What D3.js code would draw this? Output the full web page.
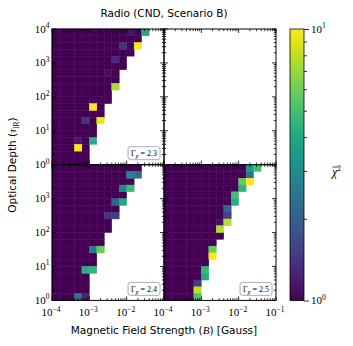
<!DOCTYPE html>
<html>
<head>
<meta charset="utf-8">
<script src="https://cdn.jsdelivr.net/npm/d3@7"></script>
<style>
  html, body { margin: 0; padding: 0; background: #fff; }
  svg { display: block; }
</style>
</head>
<body>
<svg id="chart" width="353" height="346"></svg>
<script>
// ---------------- DATA ----------------
// Magnetic field bins: log10(B) from -4 to -1, step 0.2 (15 bins)
const logBEdges = [-4.0,-3.8,-3.6,-3.4,-3.2,-3.0,-2.8,-2.6,-2.4,-2.2,-2.0,-1.8,-1.6,-1.4,-1.2,-1.0];
// Optical depth bins: log10(tau) from 4 (top row) down to 0, step 0.2 (20 rows)
const logTauEdges = [4.0,3.8,3.6,3.4,3.2,3.0,2.8,2.6,2.4,2.2,2.0,1.8,1.6,1.4,1.2,1.0,0.8,0.6,0.4,0.2,0.0];

const panelTitles = ["2.3", "none", "2.4", "2.5"];
const baseChi2 = 1.0;

// last filled B-bin index for each tau row (row 0 = top)
const extent23 = [12,11,11,10,9,9,8,8,8,7,7,6,6,6,5,5,5,4,4,4];
const extent24 = [11,11,10,10,9,9,8,8,7,7,6,6,6,5,5,5,4,4,4,4];
const extent25 = [12,11,11,10,9,9,8,8,8,7,7,6,6,6,5,5,5,4,4,4];

// cells with chi^2 differing from the base value: [row, col, chi2]
const cells23 = [[0,12,4.0],[0,10,1.12],[2,11,10],[2,9,1.4],[4,8,1.3],[6,7,1.08],[8,8,7.4],
                 [11,5,9.8],[13,6,9.5],[13,4,1.4],[16,5,4.2],[16,3,1.15],[17,3,9.8]];
const cells24 = [[1,10,2.8],[1,11,2.3],[3,9,2.8],[3,10,4.8],[5,8,2.0],[5,9,3.9],[7,7,1.4],[7,8,1.5],
                 [12,5,2.5],[12,6,5.8],[15,4,4.3],[15,5,4.5],[19,3,2.4],[19,4,1.25]];
const cells25 = [[0,11,3.4],[0,12,5.0],[1,11,2.4],[2,10,5.8],[2,11,10],[3,10,4.6],[4,9,5.0],[5,9,4.2],
                 [6,8,2.1],[7,8,1.55],[8,7,1.12],[8,8,7.8],[9,7,7.6],[12,6,5.8],[13,6,9.8],
                 [15,5,4.6],[16,5,4.0],[17,4,1.5],[18,4,8.2],[19,4,5.2]];

const xTickExps = [-4,-3,-2,-1];
const yTickExps = [0,1,2,3,4];
const cbarTickExps = [0,1];

// ---------------- LAYOUT ----------------
const svg = d3.select("#chart");
const PW = 112, PH = 135.7;
const colX = [52, 164];
const rowY = [29, 29 + PH];
const serif = "'Liberation Serif', 'DejaVu Serif', serif";
const sans = "'DejaVu Sans', sans-serif";

const color = d3.scaleSequentialLog(d3.interpolateViridis).domain([1, 10]);

function buildGrid(extent, special) {
  const out = [];
  extent.forEach((maxc, r) => {
    for (let c = 0; c <= maxc; c++) out.push({r, c, v: baseChi2});
  });
  special.forEach(([r, c, v]) => {
    const cell = out.find(d => d.r === r && d.c === c);
    if (cell) cell.v = v; else out.push({r, c, v});
  });
  return out;
}

const panels = [
  {px: 0, py: 0, grid: buildGrid(extent23, cells23), label: panelTitles[0]},
  {px: 1, py: 0, grid: [], label: null},
  {px: 0, py: 1, grid: buildGrid(extent24, cells24), label: panelTitles[2]},
  {px: 1, py: 1, grid: buildGrid(extent25, cells25), label: panelTitles[3]}
];

function addPow(sel, exp, anchor, baseSize, supSize) {
  const t = sel.attr("text-anchor", anchor).style("font-family", serif).style("font-size", baseSize + "px");
  t.append("tspan").text("10");
  t.append("tspan").attr("dy", -4.5).style("font-size", supSize + "px")
    .text(exp < 0 ? "\u2212" + Math.abs(exp) : String(exp));
}

const minorVals = (lo, hi) => {
  const v = [];
  for (let e = lo; e < hi; e++) for (let k = 2; k <= 9; k++) v.push(k * Math.pow(10, e));
  return v;
};

panels.forEach(p => {
  const x0 = colX[p.px], y0 = rowY[p.py];
  const x = d3.scaleLog().domain([1e-4, 1e-1]).range([x0, x0 + PW]);
  const y = d3.scaleLog().domain([1, 1e4]).range([y0 + PH, y0]);
  const g = svg.append("g");

  // cells (base cells first, highlighted cells on top)
  const sorted = p.grid.slice().sort((a, b) => (a.v !== baseChi2) - (b.v !== baseChi2));
  g.selectAll("rect.cell").data(sorted).enter().append("rect")
    .attr("x", d => x(Math.pow(10, logBEdges[d.c])))
    .attr("width", d => x(Math.pow(10, logBEdges[d.c + 1])) - x(Math.pow(10, logBEdges[d.c])))
    .attr("y", d => y(Math.pow(10, logTauEdges[d.r])))
    .attr("height", d => y(Math.pow(10, logTauEdges[d.r + 1])) - y(Math.pow(10, logTauEdges[d.r])))
    .attr("fill", d => color(d.v))
    .attr("stroke", d => color(d.v))
    .attr("stroke-width", 0.45);

  // ticks (inward on all four sides)
  const xMaj = xTickExps.map(e => Math.pow(10, e));
  const yMaj = yTickExps.map(e => Math.pow(10, e));
  const xMin = minorVals(-4, -1), yMin = minorVals(0, 4);
  const tick = (arr, len, horiz) => {
    arr.forEach(v => {
      if (horiz) {
        const xx = x(v);
        g.append("line").attr("x1", xx).attr("x2", xx).attr("y1", y0 + PH).attr("y2", y0 + PH - len)
          .attr("stroke", "#000").attr("stroke-width", 0.8);
        g.append("line").attr("x1", xx).attr("x2", xx).attr("y1", y0).attr("y2", y0 + len)
          .attr("stroke", "#000").attr("stroke-width", 0.8);
      } else {
        const yy = y(v);
        g.append("line").attr("y1", yy).attr("y2", yy).attr("x1", x0).attr("x2", x0 + len)
          .attr("stroke", "#000").attr("stroke-width", 0.8);
        g.append("line").attr("y1", yy).attr("y2", yy).attr("x1", x0 + PW).attr("x2", x0 + PW - len)
          .attr("stroke", "#000").attr("stroke-width", 0.8);
      }
    });
  };
  tick(xMaj, 4, true); tick(xMin, 2.2, true);
  tick(yMaj, 4, false); tick(yMin, 2.2, false);

  // frame
  g.append("rect").attr("x", x0).attr("y", y0).attr("width", PW).attr("height", PH)
    .attr("fill", "none").attr("stroke", "#000").attr("stroke-width", 1);

  // tick labels
  if (p.py === 1) {
    xTickExps.forEach(e => {
      if (p.px === 0 && e === -1) return;
      addPow(svg.append("text").attr("x", x(Math.pow(10, e)) - 1).attr("y", 316), e, "middle", 11, 7.5);
    });
  }
  if (p.px === 0) {
    yTickExps.forEach(e => {
      if (p.py === 1 && e === 4) return;
      addPow(svg.append("text").attr("x", x0 - 2.5).attr("y", y(Math.pow(10, e)) + 3.5), e, "end", 11, 7.5);
    });
  }

  // legend box
  if (p.label) {
    const bw = 32, bh = 13;
    const bx = x0 + PW - 4 - bw, by = y0 + PH - 5 - bh;
    g.append("rect").attr("x", bx).attr("y", by).attr("width", bw).attr("height", bh)
      .attr("rx", 2.5).attr("fill", "#fff").attr("stroke", "#999").attr("stroke-width", 0.8);
    const t = g.append("text").attr("x", bx + bw / 2).attr("y", by + 9.3).attr("text-anchor", "middle")
      .style("font-family", serif).style("font-size", "8px").style("font-style", "italic");
    t.append("tspan").style("font-style", "normal").text("\u0393");
    t.append("tspan").attr("dy", 2).style("font-size", "5.5px").text("p");
    t.append("tspan").attr("dy", -2).style("font-style", "normal").text(" = " + p.label);
  }
});

// ---------------- TITLE & AXIS LABELS ----------------
svg.append("text").attr("x", 164).attr("y", 16.5).attr("text-anchor", "middle")
  .style("font-family", sans).style("font-size", "10.5px").text("Radio (CND, Scenario B)");

const xl = svg.append("text").attr("x", 164).attr("y", 334).attr("text-anchor", "middle")
  .style("font-family", sans).style("font-size", "10.5px");
xl.append("tspan").text("Magnetic Field Strength (");
xl.append("tspan").style("font-family", serif).style("font-style", "italic").style("font-size", "11px").text("B");
xl.append("tspan").text(") [Gauss]");

const yl = svg.append("text").attr("transform", "translate(16,165) rotate(-90)").attr("text-anchor", "middle")
  .style("font-family", sans).style("font-size", "10.5px");
yl.append("tspan").text("Optical Depth (");
yl.append("tspan").style("font-family", serif).style("font-style", "italic").style("font-size", "11px").text("\u03C4");
yl.append("tspan").attr("dy", 2.5).style("font-family", serif).style("font-size", "7.5px").text("IR");
yl.append("tspan").attr("dy", -2.5).text(")");

// ---------------- COLORBAR ----------------
const cbX = 290, cbW = 14, cbTop = 29, cbBot = 300.5;
const defs = svg.append("defs");
const grad = defs.append("linearGradient").attr("id", "vgrad")
  .attr("x1", 0).attr("y1", 1).attr("x2", 0).attr("y2", 0);
d3.range(0, 1.0001, 0.05).forEach(t => {
  grad.append("stop").attr("offset", t).attr("stop-color", d3.interpolateViridis(t));
});
svg.append("rect").attr("x", cbX).attr("y", cbTop).attr("width", cbW).attr("height", cbBot - cbTop)
  .attr("fill", "url(#vgrad)").attr("stroke", "#000").attr("stroke-width", 0.8);
const cy = d3.scaleLog().domain([1, 10]).range([cbBot, cbTop]);
const cbAxisMaj = d3.axisRight(cy).tickValues(cbarTickExps.map(e => Math.pow(10, e))).tickSize(5).tickFormat("");
const cbAxisMin = d3.axisRight(cy).tickValues([2,3,4,5,6,7,8,9]).tickSize(3).tickFormat("");
const ga = svg.append("g").attr("transform", `translate(${cbX + cbW},0)`).call(cbAxisMaj);
const gb = svg.append("g").attr("transform", `translate(${cbX + cbW},0)`).call(cbAxisMin);
[ga, gb].forEach(a => { a.select(".domain").remove(); a.selectAll("line").attr("stroke-width", 0.8); });
cbarTickExps.forEach(e => {
  addPow(svg.append("text").attr("x", cbX + cbW + 7).attr("y", cy(Math.pow(10, e)) + 3.5), e, "start", 11, 7.5);
});
// colorbar label: overline chi squared
const cl = svg.append("text").attr("x", 332).attr("y", 176)
  .style("font-family", serif).style("font-size", "12px").style("font-style", "italic");
cl.append("tspan").text("\u03C7");
cl.append("tspan").attr("dy", -5).style("font-size", "7.5px").style("font-style", "normal").text("2");
svg.append("line").attr("x1", 332.5).attr("x2", 339).attr("y1", 167).attr("y2", 167)
  .attr("stroke", "#000").attr("stroke-width", 0.7);
</script>
</body>
</html>
